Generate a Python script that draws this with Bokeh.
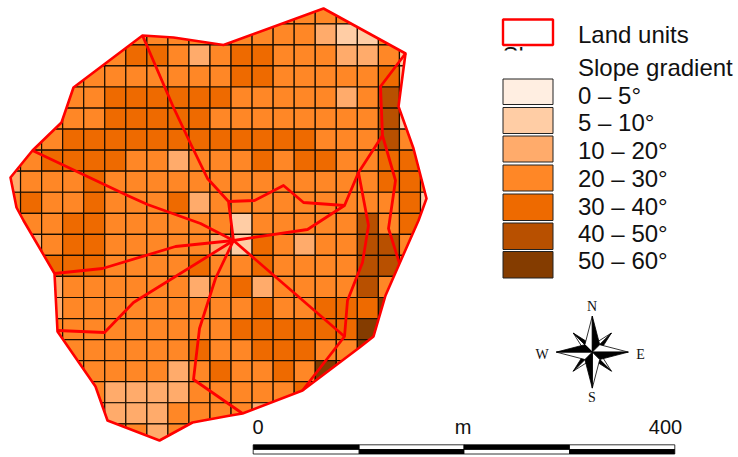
from math import cos, sin, radians
from bokeh.plotting import figure
from bokeh.models import Range1d
from bokeh.core.properties import value
from bokeh.embed import file_html
from bokeh.resources import INLINE

# ---- data -------------------------------------------------------------
slope_labels = ["0 – 5°", "5 – 10°", "10 – 20°", "20 – 30°", "30 – 40°", "40 – 50°", "50 – 60°"]
slope_colors = ["#FFEEE1", "#FFCDA5", "#FFAB6B", "#FF8726", "#EE6A00", "#B85000", "#843C00"]
slope_class_rows = [
    "333333333333333333333",
    "333333333333333211333",
    "333333443234433322313",
    "333333333334433333413",
    "333334444443333323513",
    "333334444433333333513",
    "333444444444444333533",
    "334444332333434433443",
    "233343333333333333443",
    "343343334233333333341",
    "333443333331333335343",
    "323443333321432335533",
    "334443333433433335533",
    "332333333234233335333",
    "332333333333433444623",
    "333333333334444446333",
    "333333333433444336333",
    "333333332343343633333",
    "333332222333334333333",
    "333332223333233333333",
    "333333323333333333333",
]
grid_x0, grid_y0, grid_step = -1.0, 2.3, 21.05

outline_x = [142, 173, 223, 323, 405, 398, 413, 426, 418, 399, 385, 373, 359, 302, 242, 230, 192, 159, 107, 95, 57, 54, 23, 16, 10, 32, 61, 73]
outline_y = [35, 37, 44.5, 8, 53, 106, 148, 198, 220, 263, 295, 336, 347, 390, 413, 415, 422, 440, 420, 386, 331, 273, 220, 207, 177, 150, 122, 87]
unit_lines_x = [
    [142, 173, 190, 207, 228, 233],
    [228, 254, 283, 303, 344, 358, 382, 380, 405],
    [344, 307, 233],
    [382, 395, 388, 399],
    [358, 368, 362, 347, 344, 302],
    [233, 344],
    [32, 127, 147, 200, 233],
    [54, 102, 175, 233],
    [57, 104, 133, 233],
    [233, 215, 199, 193, 242],
]
unit_lines_y = [
    [35, 107, 143, 178, 201, 240],
    [201, 200, 185, 202, 205, 172, 135, 86, 53],
    [205, 229, 240],
    [135, 180, 228, 263],
    [172, 225, 262, 300, 336, 390],
    [240, 336],
    [150, 195, 204, 223, 240],
    [273, 268, 246, 240],
    [330, 332, 302, 240],
    [240, 278, 328, 379, 413],
]
swatch_top = [78.5, 107, 135.5, 164.5, 193.5, 222.5, 251]
swatch_bottom = [104, 133, 161.5, 190.5, 220, 249, 277.5]
label_base = [95, 122, 150, 178, 206, 233, 260]
bar_edges = [252.7, 358.7, 463.5, 569, 674.3]
compass_main_angles = [0, 90, 180, 270]
compass_diag_angles = [45, 135, 225, 315]

# ---- figure -----------------------------------------------------------
W, H = 736, 456
p = figure(width=W, height=H, output_backend="svg", toolbar_location=None,
           x_range=Range1d(0, W), y_range=Range1d(H, 0),
           x_axis_type=None, y_axis_type=None, min_border=0, outline_line_color=None)
p.grid.visible = False
p.background_fill_color = "white"
p.border_fill_color = "white"

SANS = value("Liberation Sans")
SERIF = value("Liberation Serif")

def inside(x, y):
    hit = False
    n = len(outline_x)
    for i in range(n):
        x1, y1 = outline_x[i], outline_y[i]
        x2, y2 = outline_x[(i + 1) % n], outline_y[(i + 1) % n]
        if (y1 > y) != (y2 > y) and x < x1 + (y - y1) * (x2 - x1) / (y2 - y1):
            hit = not hit
    return hit

# cells
L, R, T, B, C = [], [], [], [], []
for r, row in enumerate(slope_class_rows):
    for c, ch in enumerate(row):
        x0 = grid_x0 + c * grid_step
        y0 = grid_y0 + r * grid_step
        probes = [(x0 + i * grid_step / 4, y0 + j * grid_step / 4) for i in range(5) for j in range(5)]
        if not any(inside(a, b) for a, b in probes):
            continue
        L.append(max(x0, 4))
        R.append(x0 + grid_step)
        T.append(y0)
        B.append(y0 + grid_step)
        C.append(slope_colors[int(ch)])
p.quad(left=L, right=R, top=T, bottom=B, fill_color=C, line_color="#1a0d00", line_width=1.2)

# white mask outside the outline
mx0, mx1, my0, my1 = -60, 470, -60, 520
p.multi_polygons(
    xs=[[[[mx0, mx1, mx1, mx0], outline_x]]],
    ys=[[[[my0, my0, my1, my1], outline_y]]],
    fill_color="white", line_color=None)

# land units
p.multi_line(xs=unit_lines_x, ys=unit_lines_y, line_color="#FF0000", line_width=2.8, line_join="round")
p.patch(outline_x, outline_y, fill_color=None, line_color="#FF0000", line_width=2.6, line_join="round")

# legend
p.text(x=[502], y=[55], text=["Slope"], text_font=SANS, text_font_size="24px",
       text_color="#111111", text_baseline="alphabetic")
p.quad(left=[498], right=[572], top=[50], bottom=[76], fill_color="white", line_color=None)
p.quad(left=[502.5], right=[552.5], top=[19], bottom=[44.5], fill_color="white",
       line_color="#FF0000", line_width=2.4)
p.quad(left=[502.5] * 7, right=[552.5] * 7, top=swatch_top, bottom=swatch_bottom,
       fill_color=slope_colors, line_color="#222222", line_width=1)
p.text(x=[577.5, 577.5], y=[34, 67], text=["Land units", "Slope gradient"], text_font=SANS,
       text_font_size="24px", text_color="#111111", text_baseline="alphabetic")
p.text(x=[577.5] * 7, y=label_base, text=slope_labels, text_font=SANS,
       text_font_size="24px", text_color="#111111", text_baseline="alphabetic")

# compass
cx, cy = 591.8, 351.6
def pt(angle, rad):
    a = radians(angle)
    return cx + rad * sin(a), cy - rad * cos(a)
def ray(angle, tip, base):
    t = pt(angle, tip)
    br = pt(angle + 45, base)
    bl = pt(angle - 45, base)
    c = (cx, cy)
    p.patch([t[0], c[0], bl[0]], [t[1], c[1], bl[1]], fill_color="white", line_color="black", line_width=0.8)
    p.patch([t[0], c[0], br[0]], [t[1], c[1], br[1]], fill_color="black", line_color="black", line_width=0.8)
for a in compass_diag_angles:
    ray(a, 27, 7)
for a in compass_main_angles:
    ray(a, 36, 10.5)
p.text(x=[591.5, 591.5, 541.5, 640], y=[306, 397, 354, 354], text=["N", "S", "W", "E"],
       text_font=SERIF, text_font_size="14px", text_color="#111111",
       text_align="center", text_baseline="alphabetic")

# scale bar
for i in range(4):
    top_col, bot_col = ("black", "white") if i % 2 == 0 else ("white", "black")
    p.quad(left=[bar_edges[i]], right=[bar_edges[i + 1]], top=[444.3], bottom=[449],
           fill_color=top_col, line_color="black", line_width=0.8)
    p.quad(left=[bar_edges[i]], right=[bar_edges[i + 1]], top=[449], bottom=[453.5],
           fill_color=bot_col, line_color="black", line_width=0.8)
p.text(x=[257.5, 462.5, 665], y=[426, 426, 426], text=["0", "m", "400"], text_font=SANS,
       text_font_size="20px", text_color="#111111", text_align="center", text_baseline="alphabetic")

open("out.html", "w").write(file_html(p, INLINE))
